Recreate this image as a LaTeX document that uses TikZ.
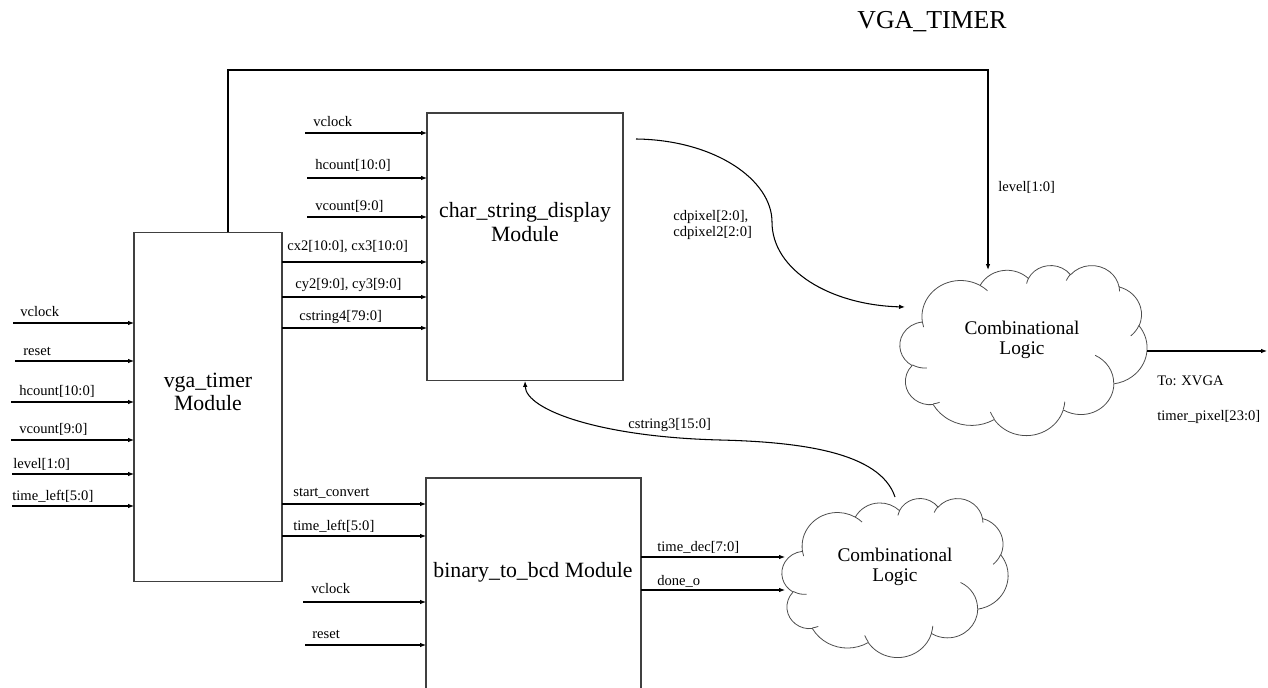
\documentclass[tikz,border=0pt]{standalone}
\usepackage{fontspec}
\setmainfont{Liberation Serif}
\usetikzlibrary{arrows.meta,calc}

% Office-style arc: rx, ry, visual start angle, sweep
\newcommand\oarc[4]{\pgfextra{%
 \pgfmathparse{atan2((#1)*sin(#3),(#2)*cos(#3))}\xdef\oA{\pgfmathresult}%
 \pgfmathparse{atan2((#1)*sin((#3)+(#4)),(#2)*cos((#3)+(#4)))}\xdef\oB{\pgfmathresult}%
 \pgfmathparse{\oA+mod(\oB-\oA+720,360)}\xdef\oC{\pgfmathresult}%
 } arc[start angle=\oA, end angle=\oC, x radius=#1, y radius=#2]}

\newcommand\officecloud{%
 \draw[cloudline, fill=white] (390,1437)
  \oarc{675.3}{919.0}{-190.4875}{123.7805}
  \oarc{533.3}{726.7}{-144.1024}{89.9452}
  \oarc{436.5}{594.5}{-145.8079}{99.7230}
  \oarc{485.7}{659.5}{-130.9861}{117.2417}
  \oarc{533.3}{727.3}{-78.7089}{109.0269}
  \oarc{677.5}{922.0}{-46.2673}{130.2690}
  \oarc{578.5}{786.7}{0.6250}{114.0333}
  \oarc{675.2}{921.5}{22.4516}{115.1726}
  \oarc{772.0}{1054.3}{66.2426}{75.7110}
  \oarc{436.0}{591.8}{-274.9421}{146.7356}
  \oarc{434.5}{594.5}{-246.8285}{152.5189} -- cycle;
 \draw[cloudline] (469.3,2617.7) \oarc{434.5}{594.5}{86.7420}{26.4295};
 \draw[cloudline] (692.8,3489.9) \oarc{436.0}{591.8}{73.6105}{11.4475};
 \draw[cloudline] (1647.8,3909.0) \oarc{675.2}{921.5}{137.6242}{14.0811};
 \draw[cloudline] (2882.7,3475.1) \oarc{675.2}{921.5}{6.4533}{15.9984};
 \draw[cloudline] (3412.9,2295.4) \oarc{578.5}{786.7}{-70.2924}{70.9174};
 \draw[cloudline] (4179.8,1535.4) \oarc{533.3}{727.3}{30.3180}{27.7515};
 \draw[cloudline] (3832.4,542.6) \oarc{485.7}{659.5}{-13.7443}{14.8589};
 \draw[cloudline] (2907.8,395.2) \oarc{485.7}{659.5}{-149.1815}{18.1954};
 \draw[cloudline] (2214.1,472.0) \oarc{436.5}{594.5}{-163.4943}{17.6864};
 \draw[cloudline] (1400.0,519.2) \oarc{675.3}{919.0}{-66.7070}{12.3194};
 \draw[cloudline] (412.7,1578.9) \oarc{675.3}{919.0}{157.6544}{11.8582};
}

\tikzset{
 box/.style={draw=black!75, line width=0.6pt, inner sep=0pt, outer sep=0pt},
 sig/.style={draw=black, line width=0.6pt, -{Latex[length=3.4pt,width=2.6pt]}},
 lab/.style={font=\fontsize{8.3}{9.3}\selectfont, inner sep=0pt, anchor=base west},
 modtxt/.style={font=\fontsize{12.4}{13.2}\selectfont, align=center, inner sep=0pt},
 cloudtxt/.style={font=\fontsize{11}{11.6}\selectfont, align=center, inner sep=0pt},
 cloudline/.style={draw=black!70, line width=0.45pt},
}

\begin{document}
\begin{tikzpicture}[x=0.02cm, y=-0.02cm]
\useasboundingbox (0,0) rectangle (1268,688);
\clip (0,0) rectangle (1268,688);
\fill[white] (0,0) rectangle (1268,688);

% title
\node[font=\fontsize{14.7}{16}\selectfont, anchor=base, inner sep=0pt] (title) at (932,29) {VGA\_TIMER};

% module boxes
\node[box, minimum width=2.96cm, minimum height=7cm] (vga) at (208,407) {};
\node[box, minimum width=3.92cm, minimum height=5.36cm] (csd) at (525,247) {};
\node[box, minimum width=4.3cm, minimum height=4.4cm] (bcd) at (533.5,588) {};
\node[modtxt] (vgaT) at (208,392) {vga\_timer\\Module};
\node[modtxt] (csdT) at (525,222) {char\_string\_display\\Module};
\node[modtxt] (bcdT) at (533,572) {binary\_to\_bcd Module};

% clouds
\begin{scope}[shift={(900,265)}, xscale=0.057176, yscale=0.039352]
 \officecloud
\end{scope}
\begin{scope}[shift={(782,498)}, xscale=0.052315, yscale=0.036806]
 \officecloud
\end{scope}
\node[cloudtxt] (c1T) at (1022,340) {Combinational\\Logic};
\node[cloudtxt] (c2T) at (895,567) {Combinational\\Logic};

\coordinate (c1top) at (988,270);
\coordinate (c1left) at (905,307);
\coordinate (c1right) at (1147,351);
\coordinate (xvga) at (1267,351);
\coordinate (c2top) at (895,497);
\coordinate (c2a) at (785,557);
\coordinate (c2b) at (785,590);
\coordinate (cdS) at (636,139);

% inputs of vga_timer
\foreach \n/\ly/\sx/\lx/\lb/\t in {
  1/323/13/20/317/vclock,
  2/361/15/23/356/reset,
  3/402/11/19/396/{hcount[10:0]},
  4/440/11/19/434/{vcount[9:0]},
  5/474/12/13/469/{level[1:0]},
  6/506/12/12/501/{time\_left[5:0]}}{
  \coordinate (vi\n) at (\sx,\ly);
  \draw[sig] (vi\n) -- (vi\n -| vga.west);
  \node[lab] (vl\n) at (\lx,\lb) {\t};
}

% free inputs of char_string_display
\foreach \n/\ly/\sx/\lx/\lb/\t in {
  1/133/305/313/127/vclock,
  2/178/307/315/170/{hcount[10:0]},
  3/217/307/315/211/{vcount[9:0]}}{
  \coordinate (ci\n) at (\sx,\ly);
  \draw[sig] (ci\n) -- (ci\n -| csd.west);
  \node[lab] (cl\n) at (\lx,\lb) {\t};
}

% vga_timer -> char_string_display
\foreach \n/\ly/\lx/\lb/\t in {
  1/262/287/251/{cx2[10:0], cx3[10:0]},
  2/297/295/289/{cy2[9:0], cy3[9:0]},
  3/328/299/321/{cstring4[79:0]}}{
  \coordinate (vc\n) at (282,\ly);
  \draw[sig] (vc\n -| vga.east) -- (vc\n -| csd.west);
  \node[lab] (vcl\n) at (\lx,\lb) {\t};
}

% vga_timer -> binary_to_bcd
\foreach \n/\ly/\lx/\lb/\t in {
  1/504/293/497/{start\_convert},
  2/536/293/531/{time\_left[5:0]}}{
  \coordinate (vb\n) at (282,\ly);
  \draw[sig] (vb\n -| vga.east) -- (vb\n -| bcd.west);
  \node[lab] (vbl\n) at (\lx,\lb) {\t};
}

% free inputs of binary_to_bcd
\foreach \n/\ly/\sx/\lx/\lb/\t in {
  1/602/303/311/594/vclock,
  2/645/305/312/639/reset}{
  \coordinate (bi\n) at (\sx,\ly);
  \draw[sig] (bi\n) -- (bi\n -| bcd.west);
  \node[lab] (bl\n) at (\lx,\lb) {\t};
}

% binary_to_bcd -> lower cloud
\draw[sig] (c2a -| bcd.east) -- (c2a);
\draw[sig] (c2b -| bcd.east) -- (c2b);
\node[lab] (tdl) at (657,552) {time\_dec[7:0]};
\node[lab] (dol) at (657,586) {done\_o};

% level feedback
\draw[sig] ($(vga.north)+(20,0)$) -- ++(0,-162) -| (c1top);
\node[lab] (lvl) at (998,192) {level[1:0]};

% cdpixel curve
\draw[sig] (cdS) .. controls (715,140) and (772,180) .. (772,222)
  .. controls (772,270) and (830,305) .. (c1left);
\node[lab, anchor=west, align=left] (cdl) at (673,225) {cdpixel[2:0],\\cdpixel2[2:0]};

% cstring3 curve
\draw[sig] (c2top) .. controls (880,452) and (800,442) .. (720,440)
  .. controls (600,437) and (526,410) .. (csd.south);
\node[lab] (csl) at (628,429) {cstring3[15:0]};

% output
\draw[sig] (c1right) -- (xvga);
\node[lab] (tol) at (1157,386) {To: XVGA};
\node[lab] (tpl) at (1157,421) {timer\_pixel[23:0]};
\end{tikzpicture}
\end{document}
